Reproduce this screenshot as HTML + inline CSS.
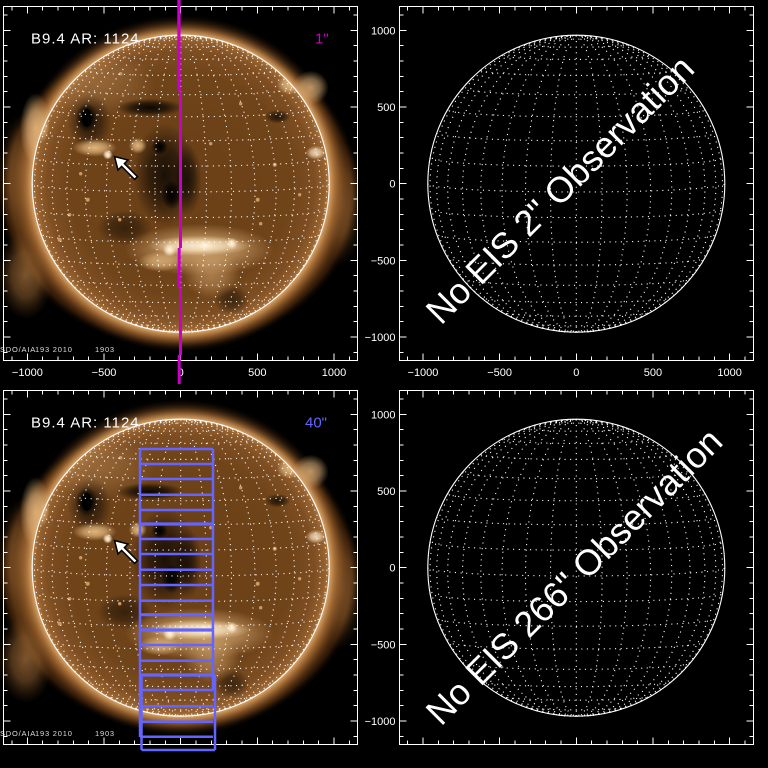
<!DOCTYPE html>
<html><head><meta charset="utf-8"><style>
html,body{margin:0;padding:0;background:#000;}
svg{display:block;}
text{font-family:"Liberation Sans",sans-serif;}
</style></head><body>
<svg width="768" height="768" viewBox="0 0 768 768" xmlns="http://www.w3.org/2000/svg" xmlns:xlink="http://www.w3.org/1999/xlink">
<defs>
  <radialGradient id="gE">
    <stop offset="0" stop-color="#a86c36"/>
    <stop offset="0.8" stop-color="#a86c36"/>
    <stop offset="0.88" stop-color="#7a4a1e"/>
    <stop offset="0.95" stop-color="#3a1e08" stop-opacity="0.85"/>
    <stop offset="1" stop-color="#000" stop-opacity="0"/>
  </radialGradient>
  <radialGradient id="gC">
    <stop offset="0.85" stop-color="#dcaa6e"/>
    <stop offset="0.873" stop-color="#dcaa6e"/>
    <stop offset="0.9" stop-color="#b47c44" stop-opacity="0.9"/>
    <stop offset="0.94" stop-color="#7a4a1e" stop-opacity="0.5"/>
    <stop offset="1" stop-color="#000" stop-opacity="0"/>
  </radialGradient>
  <radialGradient id="gD">
    <stop offset="0" stop-color="#6a3f17"/>
    <stop offset="0.75" stop-color="#704419"/>
    <stop offset="0.9" stop-color="#7e4e22"/>
    <stop offset="0.97" stop-color="#94602e"/>
    <stop offset="1" stop-color="#b07a44"/>
  </radialGradient>
  <radialGradient id="gDk">
    <stop offset="0" stop-color="#000" stop-opacity="1"/>
    <stop offset="0.5" stop-color="#000" stop-opacity="0.7"/>
    <stop offset="1" stop-color="#000" stop-opacity="0"/>
  </radialGradient>
  <radialGradient id="gTan">
    <stop offset="0" stop-color="#e0b47c" stop-opacity="1"/>
    <stop offset="0.5" stop-color="#e0b47c" stop-opacity="0.7"/>
    <stop offset="1" stop-color="#e0b47c" stop-opacity="0"/>
  </radialGradient>
  <radialGradient id="gCo">
    <stop offset="0" stop-color="#b07840" stop-opacity="1"/>
    <stop offset="0.5" stop-color="#a06a34" stop-opacity="0.7"/>
    <stop offset="1" stop-color="#6a3c16" stop-opacity="0"/>
  </radialGradient>
  <radialGradient id="gWh">
    <stop offset="0" stop-color="#fff8ec" stop-opacity="1"/>
    <stop offset="0.5" stop-color="#f8e4c0" stop-opacity="0.8"/>
    <stop offset="1" stop-color="#f0d4a8" stop-opacity="0"/>
  </radialGradient>
  <clipPath id="cd"><circle r="148.5"/></clipPath>

  <g id="lon">
    <path d="M0 148.26A25.79 148.26 0 0 0 0 -148.26" transform="skewY(17.56)"/>
    <path d="M0 148.26A50.79 148.26 0 0 0 0 -148.26" transform="skewY(8.71)"/>
    <path d="M0 148.26A74.25 148.26 0 0 0 0 -148.26" transform="skewY(5.52)"/>
    <path d="M0 148.26A95.45 148.26 0 0 0 0 -148.26" transform="skewY(3.80)"/>
    <path d="M0 148.26A113.76 148.26 0 0 0 0 -148.26" transform="skewY(2.68)"/>
    <path d="M0 148.26A128.6 148.26 0 0 0 0 -148.26" transform="skewY(1.84)"/>
    <path d="M0 148.26A139.54 148.26 0 0 0 0 -148.26" transform="skewY(1.16)"/>
    <path d="M0 148.26A146.24 148.26 0 0 0 0 -148.26" transform="skewY(0.56)"/>
  </g>

  <g id="grid">
    <g fill="none" stroke="#fff" stroke-width="1.1" stroke-dasharray="1.1 4.5">
      <path d="M-148.5 0A148.5 8.29 0 0 0 148.5 0
        M-146.24 -25.74A146.24 8.16 0 0 0 146.24 -25.74 M-146.24 25.74A146.24 8.16 0 0 0 146.24 25.74
        M-139.55 -50.71A139.55 7.79 0 0 0 139.55 -50.71 M-139.55 50.71A139.55 7.79 0 0 0 139.55 50.71
        M-128.6 -74.13A128.6 7.18 0 0 0 128.6 -74.13 M-128.6 74.13A128.6 7.18 0 0 0 128.6 74.13
        M-113.75 -95.3A113.75 6.35 0 0 0 113.75 -95.3 M-113.75 95.3A113.75 6.35 0 0 0 113.75 95.3
        M-95.45 -113.57A95.45 5.33 0 0 0 95.45 -113.57 M-95.45 113.57A95.45 5.33 0 0 0 95.45 113.57
        M-74.25 -128.4A74.25 4.14 0 0 0 74.25 -128.4 M-74.25 128.4A74.25 4.14 0 0 0 74.25 128.4
        M-50.79 -139.32A50.79 2.83 0 0 0 50.79 -139.32 M-50.79 139.32A50.79 2.83 0 0 0 50.79 139.32
        M-25.78 -146A25.78 1.44 0 0 0 25.78 -146 M-25.78 146A25.78 1.44 0 0 0 25.78 146
        M0 -148.26V148.26"/>
      <use xlink:href="#lon"/>
      <use xlink:href="#lon" transform="scale(-1,1)"/>
    </g>
    <circle r="148.5" fill="none" stroke="#fff" stroke-width="1.1"/>
  </g>

  <g id="tb">
    <path d="M-168.67 177v-4M-138 177v-4M-122.67 177v-4M-107.33 177v-4M-92 177v-4M-61.33 177v-4M-46 177v-4M-30.67 177v-4M-15.33 177v-4M15.33 177v-4M30.67 177v-4M46 177v-4M61.33 177v-4M92 177v-4M107.33 177v-4M122.67 177v-4M138 177v-4M168.67 177v-4
      M-153.33 177v-7M-76.67 177v-7M0 177v-7M76.67 177v-7M153.33 177v-7"/>
  </g>

  <g id="ax">
    <g stroke="#fff" stroke-width="1" fill="none" shape-rendering="crispEdges">
      <rect x="-177" y="-177" width="354" height="354"/>
      <use xlink:href="#tb"/>
      <use xlink:href="#tb" transform="scale(1,-1)"/>
      <use xlink:href="#tb" transform="rotate(90)"/>
      <use xlink:href="#tb" transform="rotate(-90)"/>
    </g>
    <g fill="#fff" font-size="11" text-anchor="end">
      <text x="-180.8" y="-149.3">1000</text>
      <text x="-180.8" y="-72.7">500</text>
      <text x="-180.8" y="4">0</text>
      <text x="-180.8" y="80.7">−500</text>
      <text x="-180.8" y="157.3">−1000</text>
    </g>
  </g>
  <g id="xl">
    <g fill="#fff" font-size="11" text-anchor="middle">
      <text x="-153.33" y="192.3">−1000</text>
      <text x="-76.67" y="192.3">−500</text>
      <text x="0" y="192.3">0</text>
      <text x="76.67" y="192.3">500</text>
      <text x="153.33" y="192.3">1000</text>
    </g>
  </g>

  <g id="arrow">
    <polygon points="114.5,156.5 128,160 124.4,163.6 137.4,176.6 134.6,179.4 121.6,166.4 118,170" fill="#fff" stroke="#000" stroke-width="1.5" stroke-linejoin="miter"/>
  </g>
  <g id="lbl">
    <text x="31" y="43.5" font-size="15" letter-spacing="1" fill="#fff">B9.4 AR: 1124</text>
    <g fill="#dddddd" font-size="7.5" letter-spacing="0.8">
      <text x="0" y="352">SDO/AIA</text>
      <text x="35" y="352">193 2010</text>
      <text x="95" y="352">1903</text>
    </g>
  </g>

  <g id="sunfeat">
    <ellipse cx="-80" cy="-100" rx="55" ry="32" fill="url(#gTan)" opacity="0.25"/>
    <ellipse cx="-16" cy="-9" rx="32" ry="52" fill="url(#gDk)" opacity="0.75"/>
    <ellipse cx="7" cy="-4" rx="14" ry="36" fill="url(#gDk)" opacity="0.6"/>
    <ellipse cx="-31" cy="-76" rx="34" ry="9" fill="url(#gDk)" opacity="0.9"/>
    <ellipse cx="-91" cy="-62" rx="22" ry="28" fill="url(#gDk)" opacity="0.6"/>
    <ellipse cx="-94" cy="-66" rx="11" ry="15" fill="url(#gDk)"/>
    <ellipse cx="-94" cy="-66" rx="5" ry="9" fill="#000"/>
    <circle cx="-21" cy="-37" r="8" fill="url(#gDk)"/>
    <ellipse cx="-9" cy="11" rx="10" ry="15" fill="url(#gDk)"/>
    <ellipse cx="97" cy="-67" rx="13" ry="7" fill="url(#gDk)" opacity="0.7"/>
    <ellipse cx="-56" cy="44" rx="28" ry="18" fill="url(#gDk)" opacity="0.5"/>
    <ellipse cx="51" cy="116" rx="18" ry="15" fill="url(#gDk)" opacity="0.5"/>
    <ellipse cx="19" cy="66" rx="75" ry="26" fill="url(#gTan)" opacity="0.8"/>
    <ellipse cx="31" cy="91" rx="28" ry="24" fill="url(#gTan)" opacity="0.5"/>
    <ellipse cx="-21" cy="78" rx="22" ry="10" fill="url(#gTan)" opacity="0.8"/>
    <ellipse cx="19" cy="62" rx="52" ry="10" fill="url(#gWh)" opacity="0.9"/>
    <circle cx="-11" cy="66" r="7" fill="url(#gWh)"/>
    <ellipse cx="24" cy="62" rx="13" ry="6" fill="url(#gWh)"/>
    <circle cx="51" cy="60" r="6" fill="url(#gWh)"/>
    <ellipse cx="-86" cy="-36" rx="22" ry="9" fill="url(#gTan)"/>
    <circle cx="-73" cy="-29" r="5" fill="url(#gWh)"/>
    <ellipse cx="-43" cy="-38" rx="9" ry="8" fill="url(#gTan)"/>
    <ellipse cx="135" cy="-31" rx="10" ry="7" fill="url(#gWh)" opacity="0.8"/>
    <ellipse cx="109" cy="-99" rx="13" ry="10" fill="url(#gTan)"/>
    <ellipse cx="-139" cy="-59" rx="8" ry="18" fill="url(#gTan)"/>
    <g fill="#c89a64">
      <circle cx="94" cy="-19" r="2"/><circle cx="77" cy="16" r="2"/><circle cx="119" cy="11" r="1.7"/>
      <circle cx="-93" cy="16" r="2"/><circle cx="-111" cy="31" r="1.7"/><circle cx="-121" cy="56" r="2"/>
      <circle cx="-61" cy="36" r="1.7"/><circle cx="60" cy="-80" r="1.7"/><circle cx="30" cy="-40" r="1.7"/>
      <circle cx="-60" cy="-110" r="1.7"/><circle cx="80" cy="40" r="1.7"/><circle cx="-100" cy="-10" r="1.7"/>
    </g>
  </g>
</defs>

<rect width="768" height="768" fill="#000"/>

<!-- SUN top-left -->
<g transform="translate(180.7,183.7)">
  <ellipse cx="-2" cy="8" rx="183" ry="158" fill="url(#gE)"/>
  <ellipse cx="-155" cy="91" rx="28" ry="45" fill="url(#gCo)" opacity="0.7"/>
  <ellipse cx="-160" cy="-10" rx="24" ry="60" fill="url(#gCo)" opacity="0.5"/>
  <ellipse cx="160" cy="20" rx="24" ry="62" fill="url(#gCo)" opacity="0.55"/>
  <circle r="170" fill="url(#gC)"/>
  <ellipse cx="-145" cy="-55" rx="16" ry="36" fill="url(#gTan)" opacity="0.9"/>
  <ellipse cx="130" cy="-96" rx="18" ry="17" fill="url(#gTan)" opacity="0.8"/>
  <circle r="148.5" fill="url(#gD)"/>
  <g clip-path="url(#cd)"><use xlink:href="#sunfeat"/></g>
</g>

<!-- SUN bottom-left -->
<g transform="translate(180.7,567.7)">
  <ellipse cx="-2" cy="8" rx="183" ry="158" fill="url(#gE)"/>
  <ellipse cx="-155" cy="91" rx="28" ry="45" fill="url(#gCo)" opacity="0.7"/>
  <ellipse cx="-160" cy="-10" rx="24" ry="60" fill="url(#gCo)" opacity="0.5"/>
  <ellipse cx="160" cy="20" rx="24" ry="62" fill="url(#gCo)" opacity="0.55"/>
  <circle r="170" fill="url(#gC)"/>
  <ellipse cx="-145" cy="-55" rx="16" ry="36" fill="url(#gTan)" opacity="0.9"/>
  <ellipse cx="130" cy="-96" rx="18" ry="17" fill="url(#gTan)" opacity="0.8"/>
  <circle r="148.5" fill="url(#gD)"/>
  <g clip-path="url(#cd)"><use xlink:href="#sunfeat"/></g>
</g>

<!-- mask corona overflow to the right of left panels -->
<rect x="357.6" y="0" width="42" height="768" fill="#000"/>
<rect x="0" y="361" width="357.6" height="29" fill="#000"/>

<!-- top-left panel overlays -->
<use xlink:href="#grid" transform="translate(180.7,183.7)"/>
<use xlink:href="#lbl"/>
<use xlink:href="#arrow"/>
<use xlink:href="#ax" transform="translate(180.7,183.7)"/>
<use xlink:href="#xl" transform="translate(180.7,183.7)"/>
<text x="315" y="43.5" font-size="15" fill="#c800c8">1"</text>
<g fill="#c800c8">
  <rect x="177.3" y="0" width="3.3" height="92"/>
  <rect x="179" y="92" width="3" height="156"/>
  <rect x="177.7" y="248" width="3" height="40"/>
  <rect x="179" y="288" width="3" height="67"/>
  <rect x="177.7" y="355" width="3" height="29"/>
</g>

<!-- top-right panel -->
<use xlink:href="#grid" transform="translate(576.3,183.7)"/>
<use xlink:href="#ax" transform="translate(576.3,183.7)"/>
<use xlink:href="#xl" transform="translate(576.3,183.7)"/>
<text x="441" y="326" transform="rotate(-45 441 326)" font-size="36" fill="#fff">No EIS 2" Observation</text>

<!-- bottom-left panel overlays -->
<use xlink:href="#grid" transform="translate(180.7,567.7)"/>
<use xlink:href="#lbl" transform="translate(0,384)"/>
<use xlink:href="#arrow" transform="translate(0,384)"/>
<use xlink:href="#ax" transform="translate(180.7,567.7)"/>
<text x="305" y="427.5" font-size="15" fill="#6464ff">40"</text>
<g stroke="#6464ff" stroke-width="2.5" fill="none">
  <path d="M140 449H213M140 464H213M140 479H213M140 494.7H213M140 510H213M140 524H213M140 539H213M140 554H213M140 569.7H213M140 585H213M140 600.7H213M140 614.7H213M140 630H213M140 645H213M140 660.7H213M140 675H213M140 690H213M140 706.3H213M140 721.7H213M140 736.7H213"/>
  <path d="M141.5 675H215M141.5 750H215M140 449V737M213 449V690M141.5 675V750M215 675V750"/>
  <path d="M140 524H213M140 614.7H213M140 630H213M141.5 675H215" stroke-width="3.2"/>
</g>

<!-- bottom-right panel -->
<use xlink:href="#grid" transform="translate(576.3,567.7)"/>
<use xlink:href="#ax" transform="translate(576.3,567.7)"/>
<text x="441" y="727" transform="rotate(-45 441 727)" font-size="36" fill="#fff">No EIS 266" Observation</text>
</svg>
</body></html>
